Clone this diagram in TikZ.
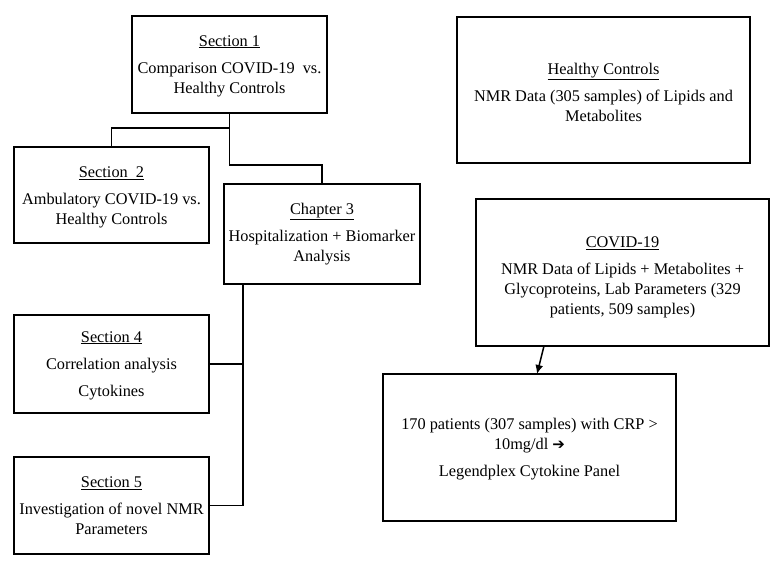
\documentclass[tikz,border=0pt]{standalone}
\usepackage{fontspec}
\setmainfont{Liberation Serif}
\newfontfamily\symfont{DejaVu Sans}
\usetikzlibrary{arrows.meta,calc}
\tikzset{
  box/.style={draw=black, line width=1.7pt, rectangle, inner sep=0pt},
  txt/.style={align=center, inner sep=0pt, font=\fontsize{16.3}{20}\selectfont},
  conn/.style={draw=black, line width=1.5pt},
}
\newcommand{\ttl}[1]{\underline{#1}}
\begin{document}
\begin{tikzpicture}[x=1pt,y=-1pt]
\useasboundingbox (0,0) rectangle (782,569);
% boxes
\node[box, minimum width=195pt, minimum height=97pt] (s1) at (229.5,64.5) {};
\node[box, minimum width=195pt, minimum height=96pt] (s2) at (111.5,195) {};
\node[box, minimum width=196pt, minimum height=100pt] (ch3) at (322,234) {};
\node[box, minimum width=195pt, minimum height=98pt] (s4) at (111.5,364) {};
\node[box, minimum width=195pt, minimum height=97pt] (s5) at (111.5,505.5) {};
\node[box, minimum width=293pt, minimum height=146pt] (hc) at (603.5,90) {};
\node[box, minimum width=293pt, minimum height=147pt] (cv) at (622.5,272.5) {};
\node[box, minimum width=293pt, minimum height=147pt] (cp) at (529.5,447.5) {};
% texts
\node[txt] (s1t) at (229.5,66) {\ttl{Section 1}\\[7pt]Comparison COVID-19~ vs.\\Healthy Controls};
\node[txt] (s2t) at (111.5,197.5) {\ttl{Section~ 2}\\[7pt]Ambulatory COVID-19 vs.\\Healthy Controls};
\node[txt] (ch3t) at (322,234) {\ttl{Chapter 3}\\[7pt]Hospitalization + Biomarker\\Analysis};
\node[txt] (s4t) at (111.5,365.5) {\ttl{Section 4}\\[7pt]Correlation analysis\\[7pt]Cytokines};
\node[txt] (s5t) at (111.5,506) {\ttl{Section 5}\\[7pt]Investigation of novel NMR\\Parameters};
\node[txt] (hct) at (603.5,92) {\ttl{Healthy Controls}\\[7pt]NMR Data (305 samples) of Lipids and\\Metabolites};
\node[txt] (cvt) at (622.5,277.5) {\ttl{COVID-19}\\[7pt]NMR Data of Lipids + Metabolites +\\Glycoproteins, Lab Parameters (329\\patients, 509 samples)};
\node[txt] (cpt) at (529.5,449.5) {170 patients (307 samples) with CRP >\\10mg/dl {\symfont\bfseries\fontsize{15}{15}\selectfont ➔}\\[7pt]Legendplex Cytokine Panel};
% connectors
\coordinate (trunk) at (243,284);
\draw[conn] (s1.south) -- ++(0,14) -| (s2.north);
\draw[conn] (s1.south) -- ++(0,51) -| (ch3.north);
\draw[conn] (trunk) |- (s5.east);
\draw[conn] (s4.east) -- (s4.east -| trunk);
\coordinate (a1) at (544,346);
\coordinate (a2) at (537,374);
\draw[conn, -{Latex[length=9pt,width=8pt]}] (a1) -- (a2);
\end{tikzpicture}
\end{document}
